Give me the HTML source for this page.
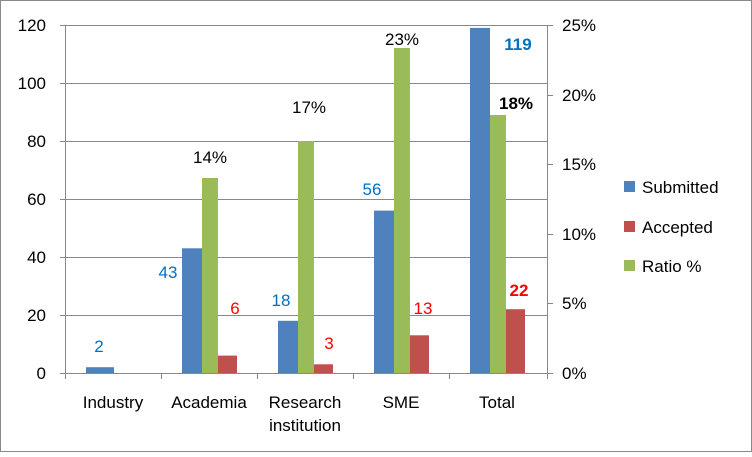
<!DOCTYPE html><html><head><style>body{margin:0}</style></head><body>
<svg width="752" height="452" xmlns="http://www.w3.org/2000/svg" font-family="Liberation Sans, sans-serif" font-size="17">
<rect x="0.5" y="0.5" width="751" height="451" fill="#fff" stroke="#888"/>
<g stroke="#888" stroke-width="1">
<line x1="65" y1="25.5" x2="547" y2="25.5"/><line x1="65" y1="83.5" x2="547" y2="83.5"/><line x1="65" y1="141.5" x2="547" y2="141.5"/><line x1="65" y1="199.5" x2="547" y2="199.5"/><line x1="65" y1="257.5" x2="547" y2="257.5"/><line x1="65" y1="315.5" x2="547" y2="315.5"/>
<line x1="65.5" y1="25" x2="65.5" y2="373"/><line x1="547.5" y1="25" x2="547.5" y2="373"/>
<line x1="60" y1="373.5" x2="553" y2="373.5"/>
<line x1="60" y1="25.5" x2="65" y2="25.5"/><line x1="60" y1="83.5" x2="65" y2="83.5"/><line x1="60" y1="141.5" x2="65" y2="141.5"/><line x1="60" y1="199.5" x2="65" y2="199.5"/><line x1="60" y1="257.5" x2="65" y2="257.5"/><line x1="60" y1="315.5" x2="65" y2="315.5"/>
<line x1="547" y1="25.5" x2="553" y2="25.5"/><line x1="547" y1="95.5" x2="553" y2="95.5"/><line x1="547" y1="164.5" x2="553" y2="164.5"/><line x1="547" y1="234.5" x2="553" y2="234.5"/><line x1="547" y1="303.5" x2="553" y2="303.5"/>
<line x1="161.5" y1="373" x2="161.5" y2="379"/><line x1="257.5" y1="373" x2="257.5" y2="379"/><line x1="353.5" y1="373" x2="353.5" y2="379"/><line x1="449.5" y1="373" x2="449.5" y2="379"/><line x1="65.5" y1="373" x2="65.5" y2="379"/><line x1="547.5" y1="373" x2="547.5" y2="379"/>
</g>
<g fill="#4f81bd"><rect x="86" y="367.2" width="28" height="5.8"/><rect x="182" y="248.3" width="20" height="124.7"/><rect x="278" y="320.8" width="20" height="52.2"/><rect x="374" y="210.6" width="20" height="162.4"/><rect x="470" y="27.9" width="20" height="345.1"/></g>
<g fill="#9bbb59"><rect x="202" y="178" width="16" height="195"/><rect x="298" y="141" width="16" height="232"/><rect x="394" y="48" width="16" height="325"/><rect x="490" y="115" width="16" height="258"/></g>
<g fill="#c0504d"><rect x="218" y="355.6" width="19" height="17.4"/><rect x="314" y="364.3" width="19" height="8.7"/><rect x="410" y="335.3" width="19" height="37.7"/><rect x="506" y="309.2" width="19" height="63.8"/></g>
<g text-anchor="end" fill="#000"><text x="46" y="31">120</text><text x="46" y="89">100</text><text x="46" y="147">80</text><text x="46" y="205">60</text><text x="46" y="263">40</text><text x="46" y="321">20</text><text x="46" y="379">0</text></g>
<g fill="#000"><text x="562" y="31">25%</text><text x="562" y="101">20%</text><text x="562" y="170">15%</text><text x="562" y="240">10%</text><text x="562" y="309">5%</text><text x="562" y="379">0%</text></g>
<g text-anchor="middle" fill="#000"><text x="113" y="408">Industry</text><text x="209" y="408">Academia</text><text x="305" y="408">Research</text><text x="305" y="431">institution</text><text x="401" y="408">SME</text><text x="497" y="408">Total</text></g>
<g text-anchor="middle" fill="#0070c0"><text x="99" y="352">2</text><text x="168" y="278">43</text><text x="281" y="306">18</text><text x="372" y="195">56</text><text x="518" y="50" font-weight="bold">119</text></g>
<g text-anchor="middle" fill="#ff0000"><text x="235" y="314">6</text><text x="329" y="349">3</text><text x="423" y="314">13</text><text x="519" y="296" font-weight="bold">22</text></g>
<g text-anchor="middle" fill="#000"><text x="210" y="163">14%</text><text x="309" y="113">17%</text><text x="402" y="45">23%</text><text x="516" y="109" font-weight="bold">18%</text></g>
<rect x="624" y="181" width="11" height="11" fill="#4f81bd"/><text x="642" y="193">Submitted</text>
<rect x="624" y="221" width="11" height="11" fill="#c0504d"/><text x="642" y="233">Accepted</text>
<rect x="624" y="260" width="11" height="11" fill="#9bbb59"/><text x="642" y="272">Ratio %</text>
</svg></body></html>
